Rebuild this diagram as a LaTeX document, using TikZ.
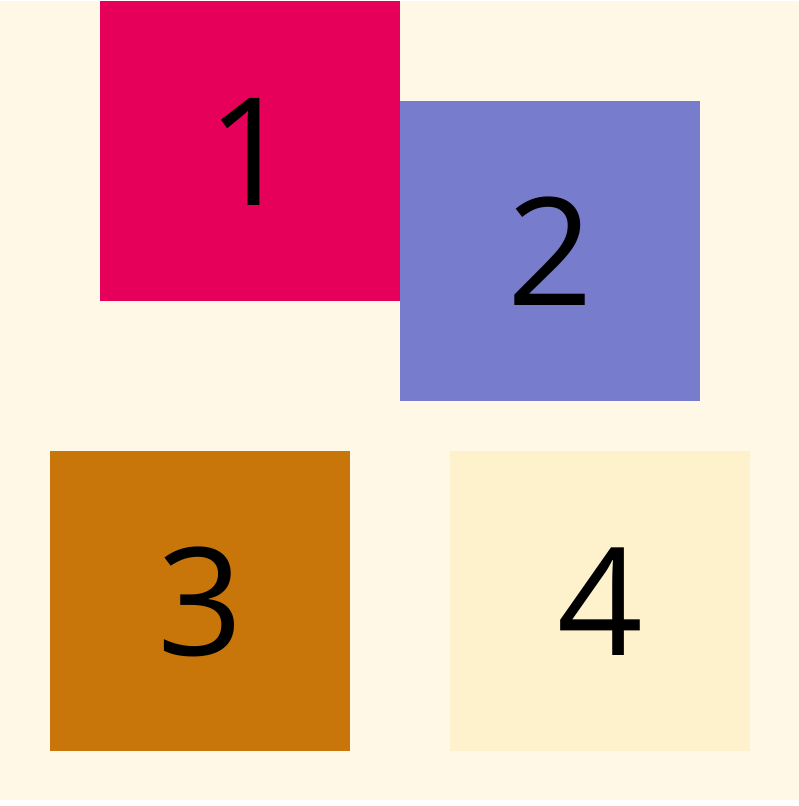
\documentclass[tikz,border=0pt]{standalone}
\usepackage{fontspec}
\setmainfont{Open Sans}
\definecolor{bgc}{HTML}{FFF8E7}
\definecolor{cpink}{HTML}{E6005A}
\definecolor{cblue}{HTML}{787CCC}
\definecolor{corange}{HTML}{C8760A}
\definecolor{clight}{HTML}{FEF2CC}
\tikzset{
  sq/.style={minimum width=300pt,minimum height=300pt,inner sep=0pt,outer sep=0pt,draw=none,anchor=north west},
  lbl/.style={inner sep=0pt,font=\fontsize{150}{152}\selectfont,text=black}
}
\begin{document}
\begin{tikzpicture}[x=1pt,y=-1pt]
\useasboundingbox (0,0) rectangle (799,806);
\fill[white] (0,0) rectangle (799,806);
\fill[bgc] (0,1) rectangle (799,800);
\node[sq,fill=cpink] (b1) at (100,0.5) {};
\node[sq,fill=cblue] (b2) at (400,100.5) {};
\node[sq,fill=corange] (b3) at (50,450.5) {};
\node[sq,fill=clight] (b4) at (450,450.5) {};
\node[lbl] (t1) at ([yshift=-1pt]b1.center) {1};
\node[lbl] (t2) at ([yshift=-1pt]b2.center) {2};
\node[lbl] (t3) at ([yshift=-1pt]b3.center) {3};
\node[lbl] (t4) at ([yshift=-1pt]b4.center) {4};
\end{tikzpicture}
\end{document}
